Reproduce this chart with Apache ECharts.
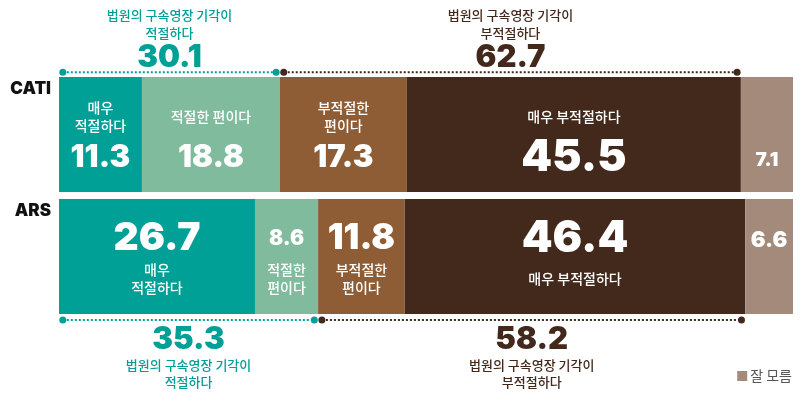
<!DOCTYPE html>
<html><head><meta charset="utf-8">
<script src="https://cdn.jsdelivr.net/npm/echarts@6/dist/echarts.min.js"></script>
<style>html,body{margin:0;padding:0;background:#fff}#c{width:800px;height:395px}</style>
</head><body><div id="c"></div>
<script>
// ---- data ----
const categories = ['CATI', 'ARS'];
const answerNames = ['매우 적절하다', '적절한 편이다', '부적절한 편이다', '매우 부적절하다', '잘 모름'];
const catiValues = [11.3, 18.8, 17.3, 45.5, 7.1];
const arsValues = [26.7, 8.6, 11.8, 46.4, 6.6];
const catiSegText = ['매우\n적절하다', '적절한 편이다', '부적절한\n편이다', '매우 부적절하다', ''];
const arsSegText = ['매우\n적절하다', '적절한\n편이다', '부적절한\n편이다', '매우 부적절하다', ''];
const groupText = ['법원의 구속영장 기각이\n적절하다', '법원의 구속영장 기각이\n부적절하다'];
const catiGroupTotals = [30.1, 62.7];
const arsGroupTotals = [35.3, 58.2];
const groupMembers = [[0, 1], [2, 3]]; // answer indices in each group
const legendItems = ['잘 모름'];

// ---- styles ----
const colors = ['#00a096', '#80bb9e', '#8e5d36', '#43291b', '#a38a7b'];
const groupColors = ['#00a096', '#43291b'];
const NUMF = 'Inter, Lato, "Noto Sans CJK KR", sans-serif';
const KF = '"Noto Sans CJK KR", "Noto Sans", sans-serif';
const numSizes = [[31, 31, 31, 44, 19], [39, 21, 35, 44, 22]];

const rowValues = [catiValues, arsValues];
const rowText = [catiSegText, arsSegText];

function makeLabel(row, i) {
  const v = rowValues[row][i].toFixed(1);
  const txt = rowText[row][i];
  const rich = {
    n: { fontFamily: NUMF, fontWeight: 900, fontSize: numSizes[row][i], lineHeight: row === 0 ? 46 : 44.6, color: '#fff' },
    t: { fontFamily: KF, fontWeight: 500, fontSize: 14, lineHeight: 18, color: '#fff' },
    t1: { fontFamily: KF, fontWeight: 500, fontSize: 14, lineHeight: 36, color: '#fff' }
  };
  if (!txt) {
    return { show: true, position: ['50%', row === 0 ? 83 : 41], align: 'center', verticalAlign: 'middle', formatter: '{n|' + v + '}', rich };
  }
  const tk = txt.indexOf('\n') >= 0 ? 't' : 't1';
  const f = row === 0 ? '{' + tk + '|' + txt + '}\n{n|' + v + '}' : '{n|' + v + '}\n{' + tk + '|' + txt + '}';
  return { show: true, position: ['50%', row === 0 ? 21.5 : 17.4], align: 'center', verticalAlign: 'top', formatter: f, rich };
}

const barSeries = answerNames.map((name, i) => ({
  name: name,
  type: 'bar',
  stack: 'total',
  barWidth: 115,
  itemStyle: { color: colors[i] },
  emphasis: { disabled: true },
  data: [0, 1].map(row => ({ value: rowValues[row][i], label: makeLabel(row, i) }))
}));

// group brackets data: [start, end, catIndex, total, groupIndex]
const groupData = [];
[catiGroupTotals, arsGroupTotals].forEach((totals, row) => {
  let start = 0;
  groupMembers.forEach((members, g) => {
    let end = start;
    members.forEach(m => { end += rowValues[row][m]; });
    groupData.push([start, end, row, totals[g], g]);
    start = end;
  });
});

const bracketSeries = {
  type: 'custom',
  clip: false,
  z: 10,
  silent: true,
  encode: { x: [0, 1], y: 2 },
  data: groupData,
  renderItem: function (params, api) {
    const s = api.value(0), e = api.value(1), row = api.value(2), tot = api.value(3), g = api.value(4);
    const p0 = api.coord([s, row]);
    const p1 = api.coord([e, row]);
    const col = groupColors[g];
    const top = row === 0;
    const y = top ? p0[1] - 62.2 : p0[1] + 63.5;
    const x0 = p0[0] + 3.8, x1 = p1[0] - 3.8;
    const cx = (p0[0] + p1[0]) / 2;
    return {
      type: 'group',
      children: [
        { type: 'line', shape: { x1: x0, y1: y, x2: x1, y2: y }, style: { stroke: col, lineWidth: 2, lineDash: [2, 2] } },
        { type: 'circle', shape: { cx: x0, cy: y, r: 3.5 }, style: { fill: col } },
        { type: 'circle', shape: { cx: x1, cy: y, r: 3.5 }, style: { fill: col } },
        { type: 'text', style: { text: tot.toFixed(1), x: cx, y: top ? y - 15 : y + 20, align: 'center', verticalAlign: 'middle', fontFamily: NUMF, fontWeight: 900, fontSize: 31, fill: col } },
        { type: 'text', style: { text: groupText[g], x: cx, y: top ? y - 48.3 : y + 53.5, align: 'center', verticalAlign: 'middle', fontFamily: KF, fontWeight: 500, fontSize: 13, lineHeight: top ? 18 : 17, fill: col } }
      ]
    };
  }
};

const chart = echarts.init(document.getElementById('c'), null, { renderer: 'canvas' });
chart.setOption({
  animation: false,
  backgroundColor: '#fff',
  grid: { left: 59, right: 7, top: 73.5, height: 244 },
  xAxis: { type: 'value', min: 0, max: 100, show: false },
  yAxis: {
    type: 'category', inverse: true, data: categories,
    axisLine: { show: false }, axisTick: { show: false }, splitLine: { show: false },
    axisLabel: {
      margin: 8,
      formatter: function (v) { return '{a|' + v + '}\n{b|}'; },
      rich: {
        a: { fontFamily: NUMF, fontWeight: 900, fontSize: 17, color: '#111', lineHeight: 20, align: 'right' },
        b: { lineHeight: 92, height: 92 }
      }
    }
  },
  legend: {
    data: legendItems, right: 8, top: 369, icon: 'rect', itemWidth: 10, itemHeight: 10, itemGap: 4, padding: 0,
    selectedMode: false,
    textStyle: { fontFamily: KF, fontSize: 14, color: '#555', padding: [0, 0, 0, -2] }
  },
  series: barSeries.concat([bracketSeries])
});
</script></body></html>
